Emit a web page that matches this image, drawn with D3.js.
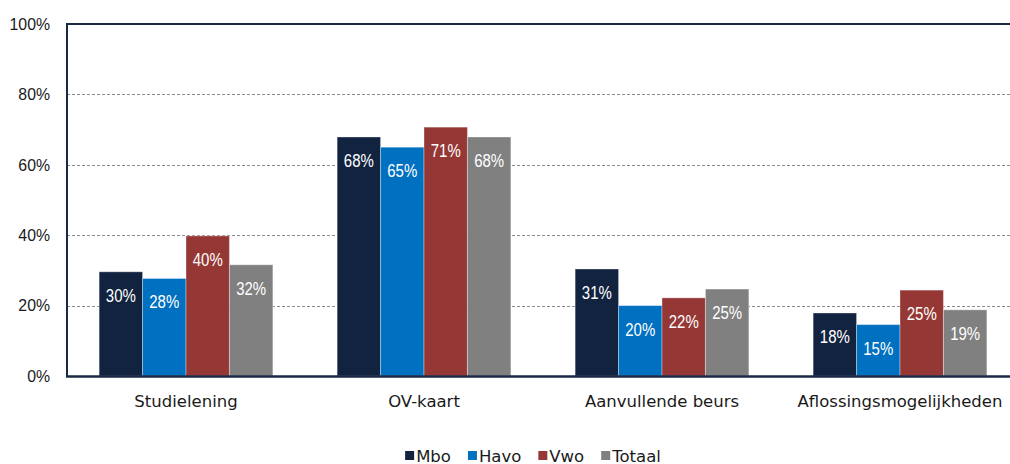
<!DOCTYPE html>
<html>
<head>
<meta charset="utf-8">
<script src="https://cdn.jsdelivr.net/npm/d3@7"></script>
<style>
html,body{margin:0;padding:0;background:#fff;}
svg{display:block;}
</style>
</head>
<body>
<svg id="chart" width="1010" height="464"></svg>
<script>
const categories = ["Studielening", "OV-kaart", "Aanvullende beurs", "Aflossingsmogelijkheden"];
const seriesNames = ["Mbo", "Havo", "Vwo", "Totaal"];
const seriesColors = ["#12233f", "#0070c0", "#953735", "#808080"];
// values per series, in category order (percent)
const mbo = [29.6, 67.9, 30.4, 17.9];
const havo = [27.7, 65.0, 20.0, 14.6];
const vwo = [39.8, 70.7, 22.2, 24.4];
const totaal = [31.6, 67.9, 24.7, 18.8];
const labelsMbo = ["30%", "68%", "31%", "18%"];
const labelsHavo = ["28%", "65%", "20%", "15%"];
const labelsVwo = ["40%", "71%", "22%", "25%"];
const labelsTotaal = ["32%", "68%", "25%", "19%"];
const yTicks = [0, 20, 40, 60, 80, 100];

const seriesValues = [mbo, havo, vwo, totaal];
const seriesLabels = [labelsMbo, labelsHavo, labelsVwo, labelsTotaal];

const svg = d3.select("#chart");
const pLeft = 67, pRight = 1019, pTop = 24, pBottom = 376;
const FONT = "DejaVu Sans, sans-serif";
const NUMFONT = "Liberation Sans, Arial, sans-serif";

const y = d3.scaleLinear().domain([0, 100]).range([pBottom, pTop]);
const x0 = d3.scaleBand().domain(categories).range([pLeft, pRight]).padding(0);
const x1 = d3.scaleBand().domain(seriesNames)
  .range([x0.bandwidth() * 0.135, x0.bandwidth() * 0.865]).padding(0);

// gridlines
svg.append("g").selectAll("line").data(yTicks.filter(d => d > 0 && d < 100)).join("line")
  .attr("x1", pLeft).attr("x2", 1010)
  .attr("y1", d => Math.round(y(d)) + 0.5).attr("y2", d => Math.round(y(d)) + 0.5)
  .attr("stroke", "#8c8c8c").attr("stroke-width", 1).attr("stroke-dasharray", "3,2");

// y tick labels
const yAxis = d3.axisLeft(y).tickValues(yTicks).tickFormat(d => d + "%").tickSize(0).tickPadding(17);
const yg = svg.append("g").attr("transform", `translate(${pLeft},0)`).call(yAxis);
yg.select(".domain").remove();
yg.selectAll("text").attr("font-family", NUMFONT).attr("font-size", 16.5).attr("fill", "#1a1a1a")
  .attr("transform", "scale(0.96,1)").attr("transform-origin", "-17 0");

// bars
const rows = [];
categories.forEach((c, ci) => seriesNames.forEach((s, si) => rows.push({c, s, si, v: seriesValues[si][ci], l: seriesLabels[si][ci]})));

const g = svg.append("g");
g.selectAll("rect").data(rows).join("rect")
  .attr("x", d => x0(d.c) + x1(d.s))
  .attr("y", d => y(d.v))
  .attr("width", x1.bandwidth())
  .attr("height", d => y(0) - y(d.v))
  .attr("fill", d => seriesColors[d.si])
  .attr("stroke", "rgba(255,255,255,0.35)").attr("stroke-width", 1);

g.selectAll("text").data(rows).join("text")
  .attr("x", d => x0(d.c) + x1(d.s) + x1.bandwidth() / 2)
  .attr("y", d => y(d.v) + 30)
  .attr("text-anchor", "middle")
  .attr("font-family", NUMFONT)
  .attr("font-size", 18)
  .attr("textLength", 30)
  .attr("lengthAdjust", "spacingAndGlyphs")
  .attr("fill", "#ffffff")
  .text(d => d.l);

// frame: left, top, bottom
svg.append("line").attr("x1", pLeft).attr("x2", pLeft).attr("y1", pTop).attr("y2", pBottom + 1)
  .attr("stroke", "#1a2a44").attr("stroke-width", 2);
svg.append("line").attr("x1", pLeft - 1).attr("x2", 1010).attr("y1", pTop).attr("y2", pTop)
  .attr("stroke", "#1a2a44").attr("stroke-width", 2);
svg.append("line").attr("x1", pLeft - 1).attr("x2", 1010).attr("y1", pBottom + 0.5).attr("y2", pBottom + 0.5)
  .attr("stroke", "#1a2a44").attr("stroke-width", 2.5);

// category axis
const xAxis = d3.axisBottom(x0).tickSize(0).tickPadding(0);
const xg = svg.append("g").attr("transform", `translate(0,${pBottom})`).call(xAxis);
xg.select(".domain").remove();
xg.selectAll("text").attr("dy", null).attr("y", 31)
  .attr("font-family", FONT).attr("font-size", 16.5).attr("fill", "#1a1a1a");

// legend
const legend = svg.append("g");
const items = legend.selectAll("g").data(seriesNames).join("g");
items.append("rect").attr("width", 9).attr("height", 9).attr("y", 451)
  .attr("fill", (d, i) => seriesColors[i]);
items.append("text").attr("x", 11).attr("y", 461.5)
  .attr("font-family", FONT).attr("font-size", 16.5).attr("fill", "#1a1a1a")
  .text(d => d);
const widths = [];
items.each(function(){ widths.push(this.querySelector("text").getComputedTextLength()); });
const gap = 17;
const total = widths.reduce((a, w) => a + 11 + w, 0) + gap * (widths.length - 1);
let cx = 533 - total / 2;
items.each(function(d, i){
  d3.select(this).attr("transform", `translate(${cx},0)`);
  cx += 11 + widths[i] + gap;
});
</script>
</body>
</html>
